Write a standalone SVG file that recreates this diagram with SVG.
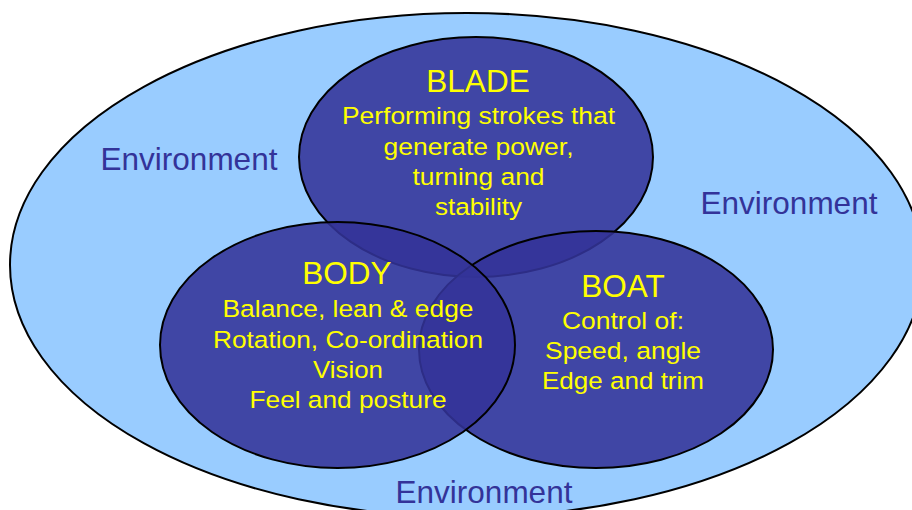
<svg xmlns="http://www.w3.org/2000/svg" width="912" height="510" viewBox="0 0 912 510">
  <style>
    .env-area { fill: #99CCFF; stroke: #000000; stroke-width: 2; }
    .zone { fill: #333399; fill-opacity: 0.88; stroke: #000000; stroke-width: 2; }
    .env { font-family: "Liberation Sans", Arial, sans-serif; font-size: 31.5px; fill: #333399; text-anchor: middle; }
    .title { font-family: "Liberation Sans", Arial, sans-serif; font-size: 31.5px; fill: #FFFF00; text-anchor: middle; }
    .body { font-family: "Liberation Sans", Arial, sans-serif; font-size: 24.5px; fill: #FFFF00; text-anchor: middle; }
  </style>
  <rect width="912" height="510" fill="#FFFFFF"/>

  <!-- surrounding environment -->
  <g id="environment">
    <ellipse class="env-area" cx="466.5" cy="265" rx="456.5" ry="252"/>
    <text class="env" x="189" y="170">Environment</text>
    <text class="env" x="789" y="213.5">Environment</text>
    <text class="env" x="484" y="503">Environment</text>
  </g>

  <!-- BLADE sits underneath the other two -->
  <g id="blade">
    <ellipse class="zone" cx="476" cy="157" rx="177" ry="120"/>
    <text class="title" x="478" y="92">BLADE</text>
    <text class="body" x="478.5" y="124" textLength="273" lengthAdjust="spacingAndGlyphs">Performing strokes that</text>
    <text class="body" x="478.5" y="155" textLength="190" lengthAdjust="spacingAndGlyphs">generate power,</text>
    <text class="body" x="478.5" y="185" textLength="132" lengthAdjust="spacingAndGlyphs">turning and</text>
    <text class="body" x="478.5" y="215" textLength="87" lengthAdjust="spacingAndGlyphs">stability</text>
  </g>

  <g id="boat">
    <ellipse class="zone" cx="596" cy="349.5" rx="177" ry="118.5"/>
    <text class="title" x="623" y="297">BOAT</text>
    <text class="body" x="623" y="329" textLength="122" lengthAdjust="spacingAndGlyphs">Control of:</text>
    <text class="body" x="623" y="359" textLength="156" lengthAdjust="spacingAndGlyphs">Speed, angle</text>
    <text class="body" x="623" y="389" textLength="162" lengthAdjust="spacingAndGlyphs">Edge and trim</text>
  </g>

  <g id="body">
    <ellipse class="zone" cx="337.5" cy="345" rx="177.5" ry="123"/>
    <text class="title" x="347" y="284">BODY</text>
    <text class="body" x="348" y="317" textLength="251" lengthAdjust="spacingAndGlyphs">Balance, lean &amp; edge</text>
    <text class="body" x="348" y="348" textLength="270" lengthAdjust="spacingAndGlyphs">Rotation, Co-ordination</text>
    <text class="body" x="348" y="378" textLength="70" lengthAdjust="spacingAndGlyphs">Vision</text>
    <text class="body" x="348" y="408" textLength="197" lengthAdjust="spacingAndGlyphs">Feel and posture</text>
  </g>

  <!-- no connectors in this diagram -->
  <g id="connectors"/>
</svg>
